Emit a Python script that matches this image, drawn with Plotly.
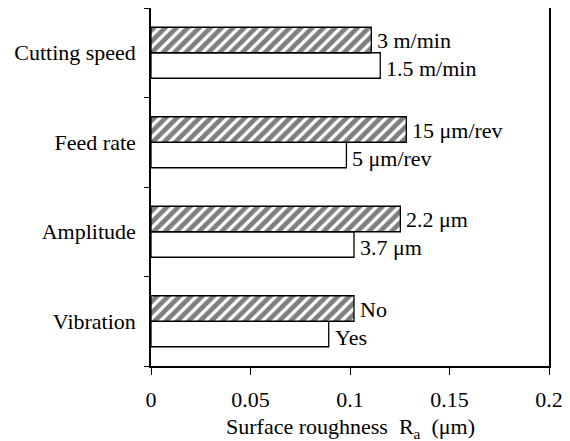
import plotly.graph_objects as go

categories = ["Vibration", "Amplitude", "Feed rate", "Cutting speed"]
white_values = [0.0893, 0.102, 0.0982, 0.1152]
white_labels = ["Yes", "3.7 μm", "5 μm/rev", "1.5 m/min"]
hatched_values = [0.102, 0.1253, 0.1283, 0.1107]
hatched_labels = ["No", "2.2 μm", "15 μm/rev", "3 m/min"]
x_ticks = [0, 0.05, 0.1, 0.15, 0.2]
x_ticktext = ["0", "0.05", "0.1", "0.15", "0.2"]
x_title = "Surface roughness  R<sub>a</sub>  (μm)"

FONT = "Liberation Serif"
FS = 22

fig = go.Figure()
fig.add_trace(go.Bar(
    y=categories, x=white_values, orientation="h",
    marker=dict(color="white", line=dict(color="black", width=1.3)),
    showlegend=False, hoverinfo="x+y",
))
fig.add_trace(go.Bar(
    y=categories, x=hatched_values, orientation="h",
    marker=dict(color="white", line=dict(color="black", width=1.3),
                pattern=dict(shape="/", fgcolor="black", bgcolor="white",
                             size=8, solidity=0.6)),
    showlegend=False, hoverinfo="x+y",
))

annotations = []
for cat, val, lab in zip(categories, hatched_values, hatched_labels):
    annotations.append(dict(x=val, y=cat, xref="x", yref="y", text=lab,
                            xanchor="left", yanchor="middle", xshift=4, yshift=12,
                            showarrow=False,
                            font=dict(family=FONT, size=FS, color="black")))
for cat, val, lab in zip(categories, white_values, white_labels):
    annotations.append(dict(x=val, y=cat, xref="x", yref="y", text=lab,
                            xanchor="left", yanchor="middle", xshift=4, yshift=-16,
                            showarrow=False,
                            font=dict(family=FONT, size=FS, color="black")))
annotations.append(dict(
    text=x_title, xref="paper", yref="paper", x=0.5, y=-0.174,
    xanchor="center", yanchor="middle", showarrow=False,
    font=dict(family=FONT, size=FS, color="black"),
))

# page body has an 8px default margin; figure is sized so the plot lands in place
fig.update_layout(
    width=562, height=433,
    margin=dict(l=143, r=21, t=0, b=75, autoexpand=False),
    paper_bgcolor="white", plot_bgcolor="white",
    barmode="group", bargap=0.43, bargroupgap=0,
    font=dict(family=FONT, size=FS, color="black"),
    annotations=annotations,
)
fig.update_xaxes(
    range=[0, 0.2], tickvals=x_ticks, ticktext=x_ticktext,
    showgrid=False, zeroline=False, automargin=False,
    showline=True, linecolor="black", linewidth=1.5, mirror=True,
    ticks="outside", ticklen=7, tickcolor="black", tickwidth=1,
    ticklabelstandoff=6,
    tickfont=dict(family=FONT, size=FS, color="black"),
)
fig.update_yaxes(
    type="category", categoryorder="array", categoryarray=categories,
    range=[-0.5, 3.5], automargin=False,
    showgrid=False, zeroline=False,
    showline=True, linecolor="black", linewidth=1.5, mirror=True,
    ticks="outside", tickson="boundaries", ticklen=5, tickcolor="black",
    tickwidth=1, ticklabelstandoff=9,
    tickfont=dict(family=FONT, size=FS, color="black"),
)

fig.write_html("out.html")
